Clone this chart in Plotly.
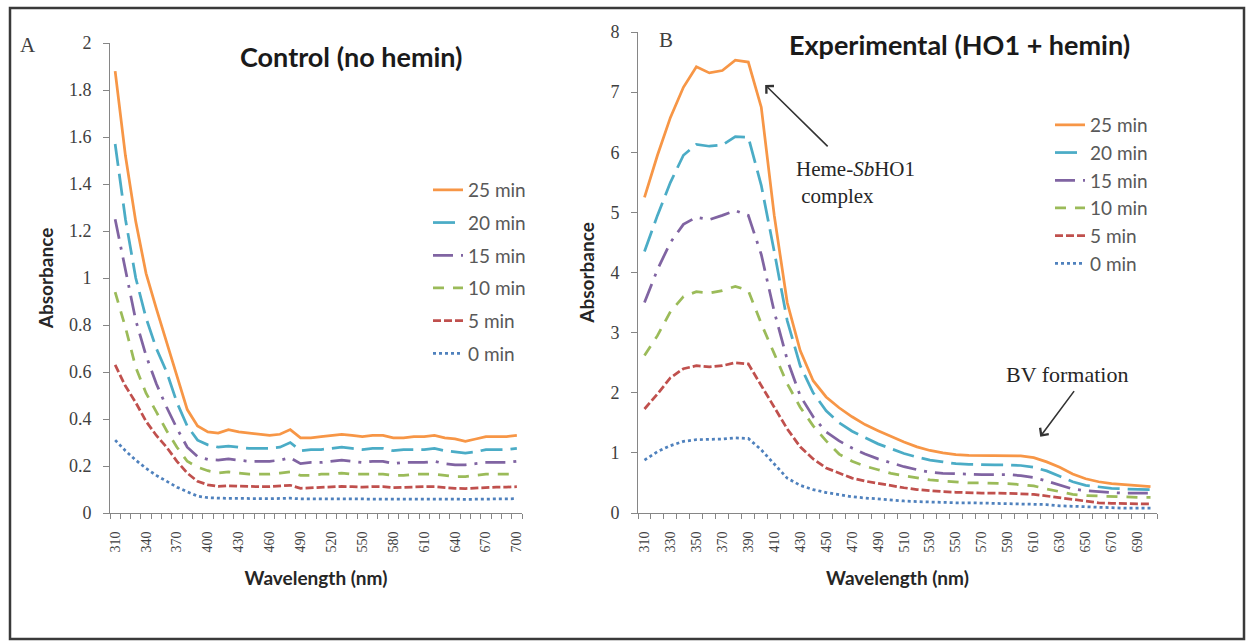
import plotly.graph_objects as go

# ---------------- data ----------------
wavelength = [310, 320, 330, 340, 350, 360, 370, 380, 390, 400,
              410, 420, 430, 440, 450, 460, 470, 480, 490, 500,
              510, 520, 530, 540, 550, 560, 570, 580, 590, 600,
              610, 620, 630, 640, 650, 660, 670, 680, 690, 700]

series_names = ["25 min", "20 min", "15 min", "10 min", "5 min", "0 min"]

# Panel A: Control (no hemin)
a_25 = [1.88, 1.52, 1.24, 1.02, 0.87, 0.73, 0.59, 0.44, 0.37, 0.345,
        0.34, 0.355, 0.345, 0.34, 0.335, 0.33, 0.335, 0.355, 0.32, 0.32,
        0.325, 0.33, 0.335, 0.33, 0.325, 0.33, 0.33, 0.32, 0.32, 0.325,
        0.325, 0.33, 0.32, 0.315, 0.305, 0.315, 0.325, 0.325, 0.325, 0.33]
a_20 = [1.57, 1.25, 1.0, 0.83, 0.7, 0.6, 0.47, 0.37, 0.31, 0.29,
        0.28, 0.285, 0.28, 0.275, 0.275, 0.275, 0.28, 0.3, 0.265, 0.27,
        0.27, 0.275, 0.28, 0.275, 0.27, 0.275, 0.275, 0.265, 0.27, 0.27,
        0.27, 0.275, 0.265, 0.26, 0.255, 0.26, 0.27, 0.27, 0.27, 0.275]
a_15 = [1.25, 1.03, 0.82, 0.67, 0.55, 0.45, 0.36, 0.28, 0.24, 0.228,
        0.225, 0.23, 0.225, 0.22, 0.22, 0.22, 0.225, 0.235, 0.21, 0.215,
        0.215, 0.22, 0.225, 0.22, 0.215, 0.22, 0.22, 0.21, 0.215, 0.215,
        0.215, 0.22, 0.21, 0.205, 0.205, 0.21, 0.215, 0.215, 0.215, 0.22]
a_10 = [0.94, 0.79, 0.62, 0.51, 0.43, 0.35, 0.28, 0.22, 0.195, 0.18,
        0.17, 0.175, 0.17, 0.165, 0.165, 0.165, 0.17, 0.175, 0.16, 0.16,
        0.165, 0.165, 0.17, 0.165, 0.165, 0.165, 0.165, 0.16, 0.16, 0.165,
        0.165, 0.165, 0.16, 0.155, 0.155, 0.16, 0.165, 0.165, 0.165, 0.165]
a_5 = [0.63, 0.54, 0.47, 0.39, 0.33, 0.28, 0.22, 0.17, 0.135, 0.12,
       0.113, 0.116, 0.114, 0.112, 0.112, 0.112, 0.114, 0.118, 0.105, 0.107,
       0.11, 0.112, 0.113, 0.112, 0.11, 0.112, 0.112, 0.108, 0.11, 0.112,
       0.112, 0.112, 0.108, 0.105, 0.104, 0.107, 0.11, 0.11, 0.11, 0.112]
a_0 = [0.31, 0.265, 0.225, 0.19, 0.16, 0.135, 0.11, 0.09, 0.072, 0.065,
       0.062, 0.062, 0.062, 0.061, 0.061, 0.061, 0.062, 0.063, 0.06, 0.06,
       0.061, 0.061, 0.062, 0.061, 0.061, 0.061, 0.061, 0.06, 0.06, 0.061,
       0.061, 0.061, 0.06, 0.059, 0.058, 0.059, 0.06, 0.06, 0.06, 0.061]

# Panel B: Experimental (HO1 + hemin)
b_25 = [5.25, 5.95, 6.58, 7.08, 7.42, 7.32, 7.36, 7.53, 7.5, 6.75,
        4.95, 3.5, 2.7, 2.2, 1.93, 1.75, 1.6, 1.47, 1.37, 1.27,
        1.18, 1.1, 1.04, 1.0, 0.97, 0.96, 0.96, 0.96, 0.96, 0.95,
        0.92, 0.85, 0.76, 0.65, 0.57, 0.52, 0.49, 0.47, 0.45, 0.44]
b_20 = [4.35, 4.95, 5.5, 5.95, 6.13, 6.1, 6.12, 6.26, 6.25, 5.45,
        4.35, 3.2, 2.45, 2.0, 1.7, 1.5, 1.36, 1.25, 1.15, 1.07,
        0.99, 0.93, 0.88, 0.85, 0.82, 0.81, 0.8, 0.8, 0.8, 0.79,
        0.76, 0.7, 0.61, 0.52, 0.46, 0.43, 0.41, 0.4, 0.39, 0.39]
b_15 = [3.5, 4.05, 4.5, 4.8, 4.92, 4.88, 4.95, 5.03, 4.95, 4.3,
        3.35, 2.55, 1.95, 1.6, 1.35, 1.2, 1.08, 0.98, 0.9, 0.83,
        0.77, 0.72, 0.68, 0.66, 0.65, 0.64, 0.64, 0.64, 0.64, 0.62,
        0.59, 0.53, 0.46, 0.4, 0.37, 0.35, 0.34, 0.33, 0.33, 0.33]
b_10 = [2.62, 2.95, 3.35, 3.6, 3.68, 3.66, 3.7, 3.77, 3.7, 3.15,
        2.65, 2.15, 1.76, 1.45, 1.2, 0.98, 0.86, 0.78, 0.72, 0.66,
        0.62, 0.58, 0.55, 0.53, 0.51, 0.5, 0.5, 0.5, 0.49, 0.47,
        0.45, 0.4, 0.35, 0.31, 0.29, 0.28, 0.27, 0.27, 0.26, 0.26]
b_5 = [1.73, 1.98, 2.25, 2.4, 2.45, 2.43, 2.45, 2.5, 2.48, 2.12,
       1.75, 1.4, 1.1, 0.9, 0.75, 0.66, 0.58, 0.53, 0.49, 0.45,
       0.42, 0.39, 0.37, 0.355, 0.345, 0.335, 0.33, 0.33, 0.33, 0.32,
       0.31, 0.28, 0.25, 0.22, 0.19, 0.17, 0.16, 0.155, 0.15, 0.15]
b_0 = [0.88, 1.02, 1.12, 1.19, 1.22, 1.22, 1.23, 1.25, 1.24, 1.05,
       0.82, 0.58, 0.46, 0.39, 0.34, 0.3, 0.27, 0.25, 0.23, 0.21,
       0.2, 0.19, 0.18, 0.175, 0.17, 0.17, 0.165, 0.165, 0.16, 0.16,
       0.155, 0.14, 0.12, 0.11, 0.1, 0.09, 0.085, 0.08, 0.08, 0.08]

a_ticks = [310, 340, 370, 400, 430, 460, 490, 520, 550, 580, 610, 640, 670, 700]
b_ticks = [310, 330, 350, 370, 390, 410, 430, 450, 470, 490, 510, 530, 550,
           570, 590, 610, 630, 650, 670, 690]
a_yticks = [0, 0.2, 0.4, 0.6, 0.8, 1, 1.2, 1.4, 1.6, 1.8, 2]
a_ytext = ["0", "0.2", "0.4", "0.6", "0.8", "1", "1.2", "1.4", "1.6", "1.8", "2"]
b_yticks = [0, 1, 2, 3, 4, 5, 6, 7, 8]

# ---------------- styles ----------------
colors = ["#F79646", "#4BACC6", "#8064A2", "#9BBB59", "#C0504D", "#4F81BD"]
dashes = ["solid", "22px,8px", "20px,8px,3px,8px", "11px,9px", "8px,3px", "3px,3px"]
LW = 2.75

W, H = 1247, 641
def px(x):
    return x / W
def py(y):
    return 1 - y / H

fig = go.Figure()
a_series = [a_25, a_20, a_15, a_10, a_5, a_0]
b_series = [b_25, b_20, b_15, b_10, b_5, b_0]
for i, name in enumerate(series_names):
    fig.add_trace(go.Scatter(
        x=wavelength, y=a_series[i], name=name, mode="lines",
        line=dict(color=colors[i], width=LW, dash=dashes[i]),
        xaxis="x", yaxis="y", legend="legend", legendgroup="a" + name))
for i, name in enumerate(series_names):
    fig.add_trace(go.Scatter(
        x=wavelength, y=b_series[i], name=name, mode="lines",
        line=dict(color=colors[i], width=LW, dash=dashes[i]),
        xaxis="x2", yaxis="y2", legend="legend2", legendgroup="b" + name))

axis_gray = "#868686"
tick_font = dict(family="Liberation Serif", size=14, color="#404040")
ytick_font = dict(family="Liberation Serif", size=18, color="#404040")
title_font = dict(family="Lato", size=19, color="#262626")

def xaxis(domain, tickvals, anchor):
    return dict(
        domain=domain, anchor=anchor, range=[305, 705], automargin=False,
        tickmode="array", tickvals=tickvals, ticktext=[str(t) for t in tickvals],
        tickangle=-90, tickfont=tick_font,
        ticks="outside", ticklen=6, tickcolor="rgba(0,0,0,0)",
        ticklabelstandoff=6,
        minor=dict(ticks="outside", ticklen=5, tickcolor=axis_gray, tick0=305, dtick=10),
        showline=True, linecolor=axis_gray, linewidth=1,
        showgrid=False, zeroline=False,
        title=dict(text="<b>Wavelength (nm)</b>", font=title_font, standoff=20),
    )

def yaxis(domain, rng, tickvals, ticktext, anchor):
    return dict(domain=domain, anchor=anchor, range=rng, automargin=False,
                tickmode="array", tickvals=tickvals, ticktext=ticktext,
                tickfont=ytick_font, ticks="outside", ticklen=6, tickcolor=axis_gray,
                ticklabelstandoff=8,
                showline=True, linecolor=axis_gray, linewidth=1,
                showgrid=False, zeroline=False,
                title=dict(text="<b>Absorbance</b>", font=title_font, standoff=10))

legend_font = dict(family="Lato", size=19, color="#595959")

fig.update_layout(
    template="none",
    width=W, height=H, autosize=False,
    margin=dict(l=0, r=0, t=0, b=0, pad=0),
    paper_bgcolor="white", plot_bgcolor="white",
    showlegend=True,
    xaxis=xaxis([px(110), px(522)], a_ticks, "y"),
    xaxis2=xaxis([px(638), px(1157)], b_ticks, "y2"),
    yaxis=yaxis([py(513), py(43)], [0, 2], a_yticks, a_ytext, "x"),
    yaxis2=yaxis([py(513), py(32)], [0, 8], b_yticks, [str(v) for v in b_yticks], "x2"),
    legend=dict(x=px(428), y=py(171), xanchor="left", yanchor="top",
                font=legend_font, bgcolor="rgba(0,0,0,0)",
                traceorder="grouped", tracegroupgap=5),
    legend2=dict(x=px(1050), y=py(106), xanchor="left", yanchor="top",
                 font=legend_font, bgcolor="rgba(0,0,0,0)",
                 traceorder="grouped", tracegroupgap=0),
)

serif = "Liberation Serif"
ann = [
    dict(text="A", x=px(28), y=py(45), font=dict(family=serif, size=21, color="#404040")),
    dict(text="B", x=px(666), y=py(40), font=dict(family=serif, size=21, color="#404040")),
    dict(text="<b>Control (no hemin)</b>", x=px(351), y=py(56),
         font=dict(family="Lato", size=27, color="#1a1a1a")),
    dict(text="<b>Experimental (HO1 + hemin)</b>", x=px(959), y=py(44),
         font=dict(family="Lato", size=27, color="#1a1a1a")),
    dict(text="Heme-<i>Sb</i>HO1<br> complex", x=px(794), y=py(182), xanchor="left",
         align="left", font=dict(family=serif, size=21, color="#262626")),
    dict(text="BV formation", x=px(1067), y=py(374),
         font=dict(family=serif, size=22, color="#262626")),
]
for a in ann:
    a.setdefault("xref", "paper")
    a.setdefault("yref", "paper")
    a.setdefault("showarrow", False)
    a.setdefault("xanchor", "center")
    a.setdefault("yanchor", "middle")
    fig.add_annotation(**a)

# arrows pointing at the curves (heads in data coordinates)
fig.add_annotation(x=403, y=7.12, xref="x2", yref="y2", text="", showarrow=True,
                   ax=64, ay=63, arrowhead=4, arrowsize=1.3, arrowwidth=1.6,
                   arrowcolor="#333333")
fig.add_annotation(x=615, y=1.27, xref="x2", yref="y2", text="", showarrow=True,
                   ax=35, ay=-47, arrowhead=4, arrowsize=1.3, arrowwidth=1.6,
                   arrowcolor="#333333")

# outer frame
fig.add_shape(type="rect", xref="paper", yref="paper",
              x0=px(10), x1=px(1244), y0=py(639), y1=py(8),
              line=dict(color="#3a3a3a", width=2.5), fillcolor="rgba(0,0,0,0)", layer="below")

fig.write_html("out.html")
